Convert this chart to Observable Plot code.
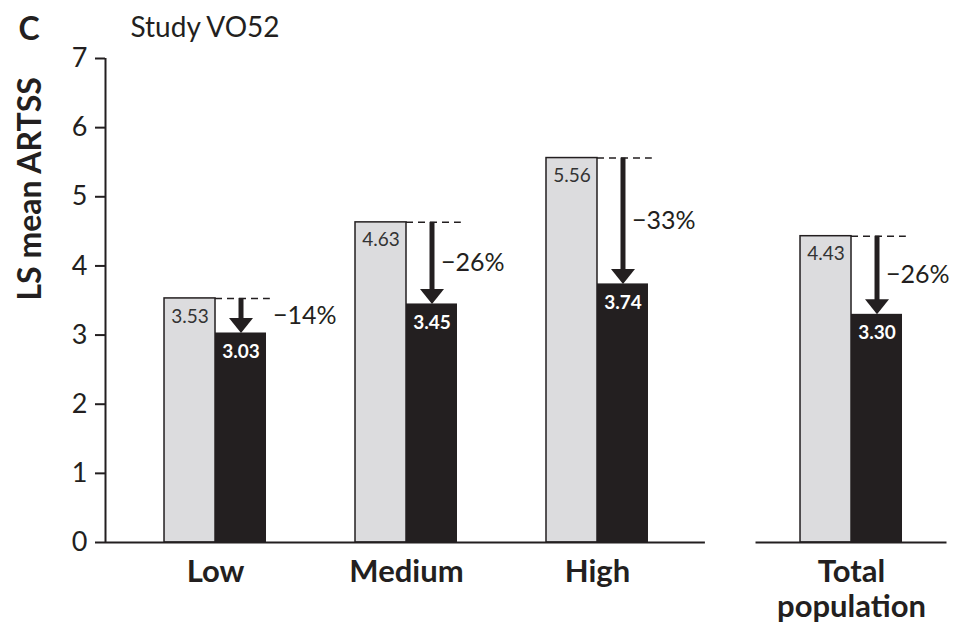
<!DOCTYPE html>
<html>
<head>
<meta charset="utf-8">
<script src="https://cdn.jsdelivr.net/npm/d3@7"></script>
<script src="https://cdn.jsdelivr.net/npm/@observablehq/plot@0.6"></script>
<style>
  html, body { margin: 0; padding: 0; background: #fff; }
</style>
</head>
<body>
<div id="chart"></div>
<script>
// LS mean ARTSS by allergen-exposure level, placebo vs. treatment
const groups = ["Low", "Medium", "High", "Total population"];
const placebo = [3.53, 4.63, 5.56, 4.43];
const treated = [3.03, 3.45, 3.74, 3.30];
const changeLabels = ["\u221214%", "\u221226%", "\u221233%", "\u221226%"];
const yTicks = [0, 1, 2, 3, 4, 5, 6, 7];
const panelLetter = "C";
const studyTitle = "Study VO52";
const axisLabel = "LS mean ARTSS";

// Layout: horizontal slot of each group (Total population sits apart)
const slot = {"Low": 0, "Medium": 1, "High": 2, "Total population": 3.33};
const barW = 0.267;               // one bar's width in slot units
const xMin = -0.576, xMax = 3.864;

const ink = "#231f20";
const grey = "#dcdcde";

const rows = groups.map((g, i) => ({
  group: g,
  x: slot[g],
  placebo: placebo[i],
  treated: treated[i],
  label: changeLabels[i]
}));

// Filled, downward-pointing arrow head with its tip at the anchor point
const downHead = {
  draw(ctx) {
    const w = 12, h = 15;
    ctx.moveTo(0, 0);
    ctx.lineTo(-w, -h);
    ctx.lineTo(w, -h);
    ctx.closePath();
  }
};

const shortDrop = d => d.placebo - d.treated < 0.8;

const chart = Plot.plot({
  width: 953,
  height: 628,
  marginLeft: 105,
  marginRight: 0,
  marginTop: 58,
  marginBottom: 86,
  style: {fontFamily: "Lato, 'Open Sans', sans-serif", color: ink, background: "#fff"},
  x: {domain: [xMin, xMax], axis: null},
  y: {domain: [0, 7], axis: null},
  marks: [
    // placebo bars
    Plot.rectY(rows, {x1: d => d.x - barW, x2: d => d.x, y1: 0, y2: "placebo",
      fill: grey, stroke: ink, strokeWidth: 1.5}),
    // treatment bars
    Plot.rectY(rows, {x1: d => d.x, x2: d => d.x + barW, y1: 0, y2: "treated", fill: ink}),
    // baselines
    Plot.ruleY([0], {x1: xMin, x2: slot["High"] + 0.565, stroke: ink, strokeWidth: 2}),
    Plot.ruleY([0], {x1: slot["Total population"] - 0.5, x2: slot["Total population"] + 0.5,
      stroke: ink, strokeWidth: 2}),
    // y axis line
    Plot.ruleX([xMin], {y1: 0, y2: 7, stroke: ink, strokeWidth: 2}),
    Plot.axisY({ticks: yTicks, tickFormat: d3.format("d"), tickSize: 10, tickPadding: 8,
      fontSize: 27, stroke: ink, strokeWidth: 2, fill: ink, label: null}),
    // dashed reference at placebo level
    Plot.ruleY(rows, {y: "placebo", x1: d => d.x, x2: d => d.x + barW + 0.02,
      stroke: ink, strokeWidth: 1.5, strokeDasharray: "7,5"}),
    // arrow shafts and heads
    Plot.ruleX(rows, {x: d => d.x + barW / 2, y1: "placebo", y2: "treated",
      stroke: ink, strokeWidth: 5, insetBottom: 12}),
    Plot.dot(rows, {x: d => d.x + barW / 2, y: "treated", symbol: downHead, fill: ink}),
    // bar values
    Plot.text(rows, {x: d => d.x - barW / 2, y: "placebo", text: d => d.placebo.toFixed(2),
      dy: 18, fontSize: 19, fill: "#333"}),
    Plot.text(rows, {x: d => d.x + barW / 2, y: "treated", text: d => d.treated.toFixed(2),
      dy: 19, fontSize: 19, fontWeight: "bold", fill: "#fff"}),
    // percent change labels
    Plot.text(rows.filter(d => !shortDrop(d)), {x: d => d.x + barW / 2,
      y: d => (d.placebo + d.treated) / 2, text: "label", textAnchor: "start",
      dx: 9, fontSize: 25, fill: ink}),
    Plot.text(rows.filter(shortDrop), {x: d => d.x + barW / 2,
      y: d => (d.placebo + d.treated) / 2, text: "label", textAnchor: "start",
      dx: 32, fontSize: 25, fill: ink}),
    // group labels
    Plot.text(rows, {x: "x", y: 0, text: d => d.group.replace(" ", "\n"),
      lineAnchor: "top", dy: 14, fontSize: 31, fontWeight: "bold", lineHeight: 1.15, fill: ink}),
    // panel letter and study title
    Plot.text([panelLetter], {frameAnchor: "top-left", dx: -87, dy: -41, lineAnchor: "top",
      textAnchor: "start", fontSize: 32, fontWeight: "bold", fill: ink}),
    Plot.text([studyTitle], {frameAnchor: "top-left", dx: 25, dy: -41, lineAnchor: "top",
      textAnchor: "start", fontSize: 28, fill: ink}),
    // y axis title
    Plot.text([axisLabel], {frameAnchor: "left", dx: -75, rotate: -90,
      fontSize: 32, fontWeight: "bold", fill: ink})
  ]
});

document.getElementById("chart").append(chart);
</script>
</body>
</html>
